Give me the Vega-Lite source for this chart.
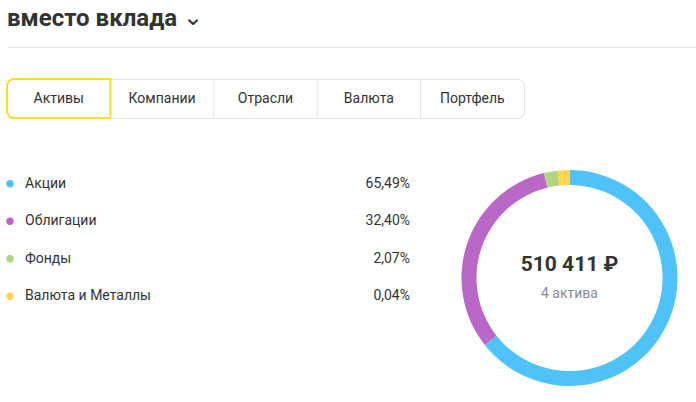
{
  "$schema": "https://vega.github.io/schema/vega-lite/v6.json",
  "background": "white",
  "padding": {"left": 5, "top": 0, "right": 0, "bottom": 0},
  "config": {
    "view": {"stroke": null},
    "font": "Roboto",
    "locale": {"number": {"decimal": ",", "thousands": " ", "grouping": [3], "currency": ["", " ₽"]}}
  },
  "datasets": {
    "assets": [
      {"name": "Акции", "share": 0.6549, "arc": 65.49, "i": 1},
      {"name": "Облигации", "share": 0.324, "arc": 32.4, "i": 2},
      {"name": "Фонды", "share": 0.0207, "arc": 2.07, "i": 3},
      {"name": "Валюта и Металлы", "share": 0.0004, "arc": 1.8, "i": 4}
    ],
    "tabs": [
      {"tab": "Активы", "active": true},
      {"tab": "Компании", "active": false},
      {"tab": "Отрасли", "active": false},
      {"tab": "Валюта", "active": false},
      {"tab": "Портфель", "active": false}
    ],
    "summary": [{"total": 510411, "count": "4 актива"}]
  },
  "spacing": 30,
  "vconcat": [
    {
      "width": 689,
      "height": 47,
      "data": {"values": [{"title": "вместо вклада", "chevron": "⌄"}]},
      "encoding": {
        "x": {"datum": 0, "type": "quantitative", "scale": {"domain": [0, 1]},
              "axis": {"domainColor": "#e4e4e4", "ticks": false, "labels": false, "title": null, "grid": false}}
      },
      "layer": [
        {"mark": {"type": "text", "align": "left", "baseline": "alphabetic", "dy": 2.5, "fontSize": 24, "fontWeight": "bold", "fill": "#333333"},
         "encoding": {"text": {"field": "title"}}},
        {"mark": {"type": "text", "align": "center", "baseline": "middle", "dx": 186, "dy": -6, "fontSize": 24, "font": "DejaVu Sans", "fill": "#333333"},
         "encoding": {"text": {"field": "chevron"}}}
      ]
    },
    {
      "spacing": 45,
      "vconcat": [
        {
          "width": 517,
          "height": 39,
          "data": {"name": "tabs"},
          "view": {"stroke": "#e3e3e3", "cornerRadius": 7, "strokeWidth": 1},
          "encoding": {
            "x": {"field": "tab", "type": "nominal", "sort": null, "scale": {"paddingInner": 0, "paddingOuter": 0}, "axis": null}
          },
          "layer": [
            {"mark": {"type": "text", "fontSize": 14, "fill": "#333333", "baseline": "middle"},
             "encoding": {"text": {"field": "tab"}}},
            {"transform": [{"filter": "!datum.active"}],
             "mark": {"type": "rule", "stroke": "#e3e3e3"},
             "encoding": {"x": {"field": "tab", "type": "nominal", "sort": null, "bandPosition": 0}}},
            {"transform": [{"filter": "datum.active"}],
             "mark": {"type": "rect", "fill": null, "fillOpacity": 0, "stroke": "#ffdd2d", "strokeWidth": 2, "cornerRadiusTopLeft": 7, "cornerRadiusBottomLeft": 7}}
          ]
        },
        {
          "spacing": 43.5,
          "hconcat": [
            {
              "width": 406,
              "height": 150,
              "data": {"name": "assets"},
              "encoding": {
                "y": {"field": "name", "type": "nominal", "sort": {"field": "i"}, "axis": null}
              },
              "layer": [
                {"mark": {"type": "point", "filled": true, "size": 55, "opacity": 1, "xOffset": 3},
                 "encoding": {
                   "x": {"datum": 0, "type": "quantitative", "scale": {"domain": [0, 1]}, "axis": null},
                   "color": {"field": "name", "type": "nominal",
                             "scale": {"domain": ["Акции", "Облигации", "Фонды", "Валюта и Металлы"], "range": ["#4fc3f7", "#ba68c8", "#aed581", "#ffd54f"]},
                             "legend": null}
                 }},
                {"mark": {"type": "text", "align": "left", "baseline": "middle", "dx": 18, "fontSize": 14, "fill": "#333333"},
                 "encoding": {"x": {"datum": 0, "type": "quantitative"}, "text": {"field": "name"}}},
                {"mark": {"type": "text", "align": "right", "baseline": "middle", "dx": -3, "fontSize": 14, "fill": "#333333"},
                 "encoding": {"x": {"datum": 1, "type": "quantitative"}, "text": {"field": "share", "type": "quantitative", "format": ".2%"}}}
              ]
            },
            {
              "width": 226,
              "height": 226,
              "layer": [
                {"data": {"name": "assets"},
                 "mark": {"type": "arc", "outerRadius": 108, "innerRadius": 93},
                 "encoding": {
                   "theta": {"field": "arc", "type": "quantitative", "stack": true},
                   "order": {"field": "i", "type": "quantitative"},
                   "color": {"field": "name", "type": "nominal",
                             "scale": {"domain": ["Акции", "Облигации", "Фонды", "Валюта и Металлы"], "range": ["#4fc3f7", "#ba68c8", "#aed581", "#ffd54f"]},
                             "legend": null}
                 }},
                {"data": {"name": "summary"},
                 "mark": {"type": "text", "fontSize": 21, "fontWeight": "bold", "fill": "#333333", "baseline": "middle", "dy": -13},
                 "encoding": {"text": {"field": "total", "type": "quantitative", "format": "$,.0f"}}},
                {"data": {"name": "summary"},
                 "mark": {"type": "text", "fontSize": 14, "fill": "#868d98", "baseline": "middle", "dy": 16},
                 "encoding": {"text": {"field": "count"}}}
              ]
            }
          ]
        }
      ]
    }
  ]
}
